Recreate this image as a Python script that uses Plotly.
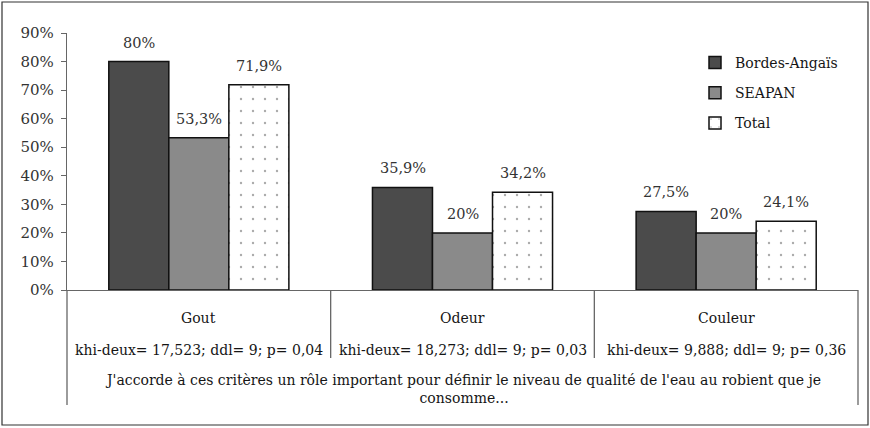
import plotly.graph_objects as go

categories = ["Gout", "Odeur", "Couleur"]
stats = ["khi-deux= 17,523; ddl= 9; p= 0,04",
         "khi-deux= 18,273; ddl= 9; p= 0,03",
         "khi-deux= 9,888; ddl= 9; p= 0,36"]
bordes = [80, 35.9, 27.5]
seapan = [53.3, 20, 20]
total = [71.9, 34.2, 24.1]
series_names = ["Bordes-Angaïs", "SEAPAN", "Total"]
caption = "J'accorde à ces critères un rôle important pour définir le niveau de qualité de l'eau au robient que je<br>consomme..."
y_ticks = [0, 10, 20, 30, 40, 50, 60, 70, 80, 90]

FONT = "DejaVu Serif"
FS = 14
TXT = "#333333"
DARK = "#151515"

def fmt(v):
    return f"{v:g}".replace(".", ",") + "%"

L, R, T, B = 67, 12, 33, 138
W, H = 870, 428
pw, ph = W - L - R, H - T - B

def px_x(p):
    return (p - L) / pw

def px_y(p):
    return (H - B - p) / ph

fig = go.Figure()
styles = [
    dict(color="#4b4b4b"),
    dict(color="#8a8a8a"),
    dict(color="white", pattern=dict(shape=".", fgcolor="#555555", bgcolor="white", size=12, solidity=0.03)),
]
data = [bordes, seapan, total]
for i, (name, vals) in enumerate(zip(series_names, data)):
    fig.add_trace(go.Bar(
        x=categories, y=vals, name=name, legendgroup=name,
        marker=dict(line=dict(color="#111111", width=1.5), **styles[i]),
        hoverinfo="skip",
    ))
    for c, v in zip(categories, vals):
        fig.add_annotation(x=c, y=v, xref="x", yref="y", text=fmt(v), showarrow=False,
                           xshift=(i - 1) * 60, yshift=9, yanchor="bottom",
                           font=dict(family=FONT, size=FS + 0.5, color=TXT))

for j, (c, s) in enumerate(zip(categories, stats)):
    fig.add_annotation(x=c, y=px_y(318), xref="x", yref="paper", text=c, showarrow=False,
                       yanchor="middle", font=dict(family=FONT, size=FS, color=DARK))
    fig.add_annotation(x=c, y=px_y(350), xref="x", yref="paper", text=s, showarrow=False,
                       yanchor="middle", font=dict(family=FONT, size=FS, color=DARK))

fig.add_annotation(x=0.5, y=px_y(389), xref="paper", yref="paper", text=caption, showarrow=False,
                   yanchor="middle", font=dict(family=FONT, size=FS, color=DARK))

shapes = []
# outer frame
shapes.append(dict(type="rect", xref="paper", yref="paper", x0=px_x(2), x1=px_x(868), y0=px_y(425), y1=px_y(2),
                   line=dict(color="#333333", width=1.2)))
# separators
for xp in [0, 1]:
    shapes.append(dict(type="line", xref="paper", yref="paper", x0=xp, x1=xp, y0=0, y1=px_y(405),
                       line=dict(color="#666666", width=1.3)))
for xp in [1/3, 2/3]:
    shapes.append(dict(type="line", xref="paper", yref="paper", x0=xp, x1=xp, y0=0, y1=px_y(358),
                       line=dict(color="#666666", width=1.3)))
fig.update_layout(shapes=shapes)

fig.update_layout(
    width=W, height=H,
    margin=dict(l=L, r=R, t=T, b=B),
    paper_bgcolor="white", plot_bgcolor="white",
    barmode="group", bargap=0.317, bargroupgap=0,
    font=dict(family=FONT, color=TXT),
    legend=dict(x=px_x(695), y=px_y(47), xanchor="left", yanchor="top",
                font=dict(family=FONT, size=FS, color=DARK),
                tracegroupgap=9, bgcolor="rgba(0,0,0,0)", itemwidth=30),
    xaxis=dict(showticklabels=False, showline=True, linecolor="#666666", linewidth=1.3,
               ticks="", showgrid=False, zeroline=False),
    yaxis=dict(range=[0, 90], tickvals=y_ticks, ticktext=[f"{t}%" for t in y_ticks],
               showline=True, linecolor="#666666", linewidth=1.3, ticks="outside", ticklen=5,
               tickcolor="#666666", showgrid=False, zeroline=False, ticklabelstandoff=4,
               tickfont=dict(family=FONT, size=FS + 1, color=TXT)),
)

fig.write_html("out.html", config={"displayModeBar": False},
               post_script="document.body.style.margin='0';")
